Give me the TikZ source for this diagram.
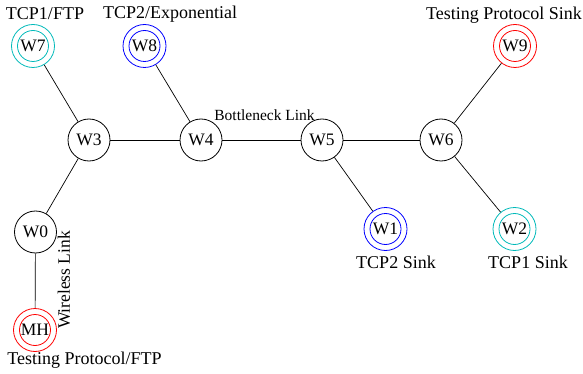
\documentclass[tikz,border=0pt]{standalone}
\usepackage{fontspec}
\setmainfont{Liberation Serif}
\definecolor{tcpcyan}{RGB}{0,185,185}
\begin{document}
\begin{tikzpicture}[x=1pt,y=-1pt,
  lbl/.style={font=\fontsize{18}{18}\selectfont, inner sep=0pt},
  smalllbl/.style={font=\fontsize{15.5}{15.5}\selectfont, inner sep=0pt},
  plain/.style={circle, draw=black, line width=0.8pt, minimum size=42pt, inner sep=0pt, font=\fontsize{17.5}{17.5}\selectfont},
  dbl/.style={circle, draw=#1, line width=0.8pt, minimum size=43pt, inner sep=0pt, font=\fontsize{17.5}{17.5}\selectfont},
  inner/.style={draw=#1, line width=0.8pt},
  link/.style={draw=black, line width=0.7pt}]
\useasboundingbox (0,0) rectangle (583,374);
% nodes
\node[dbl=tcpcyan] (w7) at (33,46) {W7};
\node[dbl=blue] (w8) at (144.5,46) {W8};
\node[dbl=red] (w9) at (515,46) {W9};
\node[plain] (w3) at (89,140) {W3};
\node[plain] (w4) at (201,140) {W4};
\node[plain] (w5) at (322,140) {W5};
\node[plain] (w6) at (441,140) {W6};
\node[plain] (w0) at (35.5,232) {W0};
\node[dbl=blue] (w1) at (385.5,229) {W1};
\node[dbl=tcpcyan] (w2) at (514.5,229) {W2};
\node[dbl=red] (mh) at (35,330) {MH};
% inner rings
\draw[inner=tcpcyan] (w7.center) circle (15.5);
\draw[inner=blue] (w8.center) circle (15.5);
\draw[inner=red] (w9.center) circle (15.5);
\draw[inner=blue] (w1.center) circle (15.5);
\draw[inner=tcpcyan] (w2.center) circle (15.5);
\draw[inner=red] (mh.center) circle (15.5);
% links
\draw[link] (w7) -- (w3);
\draw[link] (w8) -- (w4);
\draw[link] (w3) -- (w4);
\draw[link] (w4) -- (w5);
\draw[link] (w5) -- (w6);
\draw[link] (w6) -- (w9);
\draw[link] (w6) -- (w2);
\draw[link] (w5) -- (w1);
\draw[link] (w3) -- (w0);
\draw[link] (w0) -- (mh);
% labels
\node[lbl] (l7) at (45,14) {TCP1/FTP};
\node[lbl] (l8) at (170,14) {TCP2/Exponential};
\node[lbl] (l9) at (504,15) {Testing Protocol Sink};
\node[smalllbl] (lb) at (264.5,115) {Bottleneck Link};
\node[lbl] (l1) at (396,262) {TCP2 Sink};
\node[lbl] (l2) at (528,262) {TCP1 Sink};
\node[lbl, font=\fontsize{17.5}{17.5}\selectfont, rotate=90] (lw) at (64,280) {Wireless Link};
\node[lbl] (lmh) at (84.5,360) {Testing Protocol/FTP};
\end{tikzpicture}
\end{document}
